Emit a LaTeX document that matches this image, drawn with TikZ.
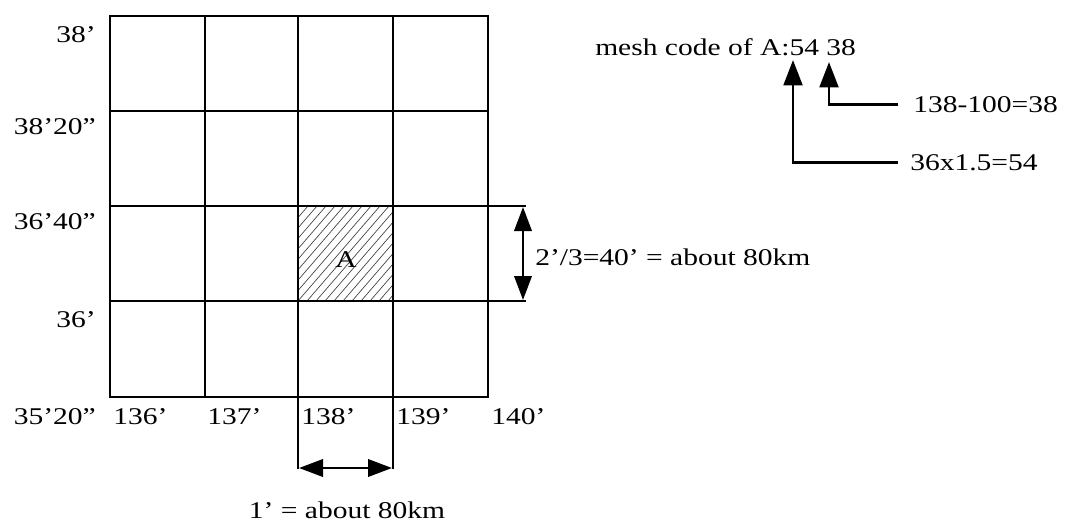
\documentclass[tikz,border=0pt]{standalone}
\usepackage{fontspec}
\setmainfont{Liberation Serif}[FakeStretch=1.23]
\usetikzlibrary{arrows.meta}
\tikzset{
  gridline/.style={line width=2pt, line cap=rect},
  hatchline/.style={line width=0.5pt, black!75},
  arr/.style={line width=2.2pt, -{Triangle[width=14pt,length=19pt]}},
  dbl/.style={line width=2pt, {Triangle[width=13pt,length=18pt]}-{Triangle[width=13pt,length=18pt]}},
  lbl/.style={inner sep=0pt, font=\fontsize{18}{21}\selectfont},
}
\begin{document}
\begin{tikzpicture}[x=0.75pt,y=-0.75pt]
\path[use as bounding box] (0,0) rectangle (1067,522);
% hatched cell A
\begin{scope}
  \clip (298,206) rectangle (393,301);
  \foreach \i in {-99,-90,...,99} \draw[hatchline] (298+\i,301) -- (380+\i,206);
\end{scope}
% grid
\draw[gridline] (110,16) rectangle (488,397);
\foreach \x in {205,298,393} \draw[gridline] (\x,16) -- (\x,397);
\foreach \y in {111,206,301} \draw[gridline] (110,\y) -- (488,\y);
% extensions
\draw[gridline] (488,206) -- (525,206);
\draw[gridline] (488,301) -- (525,301);
\draw[gridline] (298,397) -- (298,468);
\draw[gridline] (393,397) -- (393,468);
% dimension arrows
\coordinate (vt) at (523,207);
\coordinate (vb) at (523,300);
\draw[dbl] (vt) -- (vb);
\coordinate (hl) at (299,468);
\coordinate (hr) at (392,468);
\draw[dbl] (hl) -- (hr);
% left labels
\node[lbl, anchor=base east] (l1) at (96,42.5) {38'};
\node[lbl, anchor=base east] (l2) at (96,134.5) {38'20"};
\node[lbl, anchor=base east] (l3) at (96,229.5) {36'40"};
\node[lbl, anchor=base east] (l4) at (96,327.5) {36'};
\node[lbl, anchor=base east] (l5) at (96,424.5) {35'20"};
% bottom labels
\node[lbl, anchor=base west] (b1) at (113,424.5) {136'};
\node[lbl, anchor=base west] (b2) at (207,424.5) {137'};
\node[lbl, anchor=base west] (b3) at (301,424.5) {138'};
\node[lbl, anchor=base west] (b4) at (396,424.5) {139'};
\node[lbl, anchor=base west] (b5) at (491,424.5) {140'};
% cell label
\node[lbl, anchor=base] (A) at (346,267) {A};
% dimension texts
\node[lbl, anchor=base west] (dv) at (535,265.5) {2'/3=40' = about 80km};
\node[lbl, anchor=base] (dh) at (347,518) {1' = about 80km};
% mesh code
\node[lbl, anchor=base west] (mesh) at (595,55.5) {mesh code of A:54 38};
\node[lbl, anchor=base west] (e1) at (913,112.5) {138-100=38};
\node[lbl, anchor=base west] (e2) at (910,170.5) {36x1.5=54};
\coordinate (t38) at (829,62);
\coordinate (t54) at (793,60);
\draw[arr] ([xshift=-11pt]e1.west) -| (t38);
\draw[arr] ([xshift=-9pt]e2.west) -| (t54);
\end{tikzpicture}
\end{document}
